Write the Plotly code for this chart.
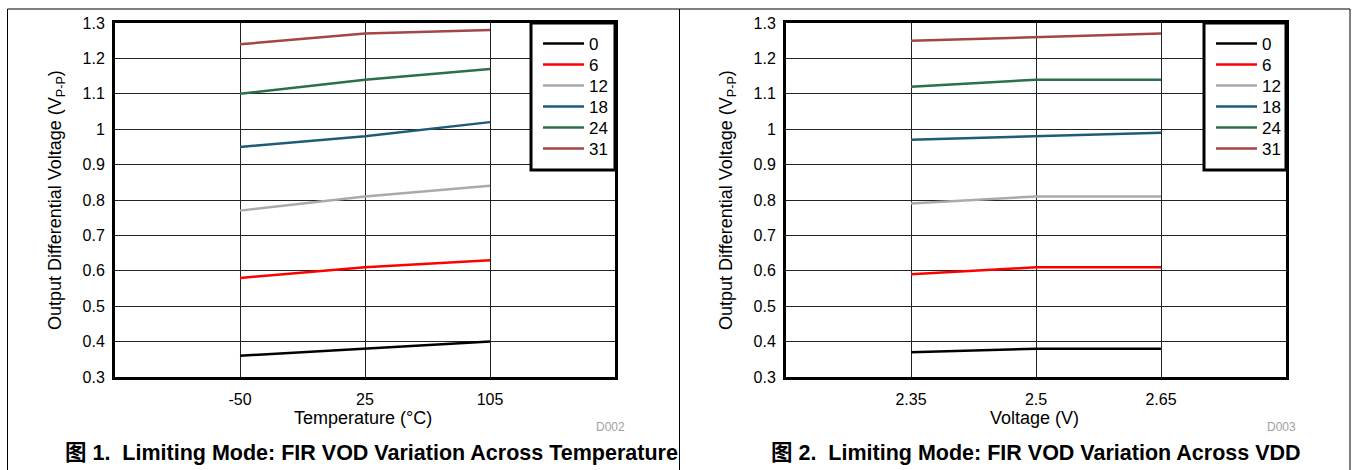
import plotly.graph_objects as go

W, H = 1353, 470

series_names = ["0", "6", "12", "18", "24", "31"]
series_colors = ["#000000", "#ff0000", "#aaaaaa", "#1f5b78", "#2b7049", "#a54545"]

temp_labels = ["-50", "25", "105"]
temp_values = {
    "0": [0.36, 0.38, 0.40],
    "6": [0.58, 0.61, 0.63],
    "12": [0.77, 0.81, 0.84],
    "18": [0.95, 0.98, 1.02],
    "24": [1.10, 1.14, 1.17],
    "31": [1.24, 1.27, 1.28],
}

vdd_labels = ["2.35", "2.5", "2.65"]
vdd_values = {
    "0": [0.37, 0.38, 0.38],
    "6": [0.59, 0.61, 0.61],
    "12": [0.79, 0.81, 0.81],
    "18": [0.97, 0.98, 0.99],
    "24": [1.12, 1.14, 1.14],
    "31": [1.25, 1.26, 1.27],
}

y_ticks = [0.3, 0.4, 0.5, 0.6, 0.7, 0.8, 0.9, 1.0, 1.1, 1.2, 1.3]
y_tick_text = ["0.3", "0.4", "0.5", "0.6", "0.7", "0.8", "0.9", "1", "1.1", "1.2", "1.3"]

FONT = "Arial, Liberation Sans, Noto Sans CJK SC, sans-serif"

def px(x):
    return x / W

def py(y):
    return 1 - y / H

fig = go.Figure()

panels = [
    dict(labels=temp_labels, values=temp_values, xa="x", ya="y",
         left=115, right=615, leg_left=531, xtitle="Temperature (°C)", code="D002",
         caption="图 1.  Limiting Mode: FIR VOD Variation Across Temperature",
         cap_x=371, box=(7.5, 679.5)),
    dict(labels=vdd_labels, values=vdd_values, xa="x2", ya="y2",
         left=786, right=1286, leg_left=1204, xtitle="Voltage (V)", code="D003",
         caption="图 2.  Limiting Mode: FIR VOD Variation Across VDD",
         cap_x=1036, box=(679.5, 1350)),
]

top, bottom = 23, 377
leg_bottom = 170
leg_first_y, leg_step = 44, 21

layout = dict(
    width=W, height=H,
    margin=dict(l=0, r=0, t=0, b=0, autoexpand=False),
    paper_bgcolor="white", plot_bgcolor="white",
    font=dict(family=FONT, color="black", size=16),
    showlegend=True,
    shapes=[], annotations=[],
)

for i, p in enumerate(panels):
    sfx = "" if i == 0 else str(i + 1)
    for j, (name, color) in enumerate(zip(series_names, series_colors)):
        k = i * len(series_names) + j + 1
        leg = "legend" if k == 1 else "legend%d" % k
        fig.add_trace(go.Scatter(
            x=p["labels"], y=p["values"][name], mode="lines", name=name,
            line=dict(color=color, width=2.5),
            xaxis=p["xa"], yaxis=p["ya"], legend=leg,
        ))
        layout[leg] = dict(
            x=px(p["leg_left"] + 7), xanchor="left",
            y=py(leg_first_y + j * leg_step), yanchor="middle",
            bgcolor="rgba(0,0,0,0)", borderwidth=0,
            font=dict(size=17, family=FONT),
            itemwidth=41,
        )
    layout["xaxis" + sfx] = dict(
        type="category", range=[-1, 3],
        domain=[px(p["left"]), px(p["right"])],
        anchor="y" + sfx, automargin=False,
        showgrid=True, gridcolor="#222222", gridwidth=1,
        showline=True, linecolor="black", linewidth=3, mirror=True,
        ticks="", ticklabelstandoff=6,
        tickfont=dict(size=16, family=FONT),
        zeroline=False, fixedrange=True,
    )
    layout["yaxis" + sfx] = dict(
        range=[0.3, 1.3],
        domain=[py(bottom), py(top)],
        anchor="x" + sfx, automargin=False,
        tickvals=y_ticks, ticktext=y_tick_text,
        showgrid=True, gridcolor="#222222", gridwidth=1,
        showline=True, linecolor="black", linewidth=3, mirror=True,
        ticks="", ticklabelstandoff=4,
        tickfont=dict(size=16, family=FONT),
        zeroline=False, fixedrange=True,
    )
    # legend frame
    layout["shapes"].append(dict(
        type="rect", xref="paper", yref="paper",
        x0=px(p["leg_left"]), x1=px(p["right"]), y0=py(leg_bottom), y1=py(top),
        line=dict(color="black", width=3), fillcolor="white", layer="above",
    ))
    # axis titles
    layout["annotations"].append(dict(
        text="Output Differential Voltage (V<sub>P-P</sub>)",
        x=px(p["left"] - 58), y=py((top + bottom) / 2),
        xref="paper", yref="paper", textangle=-90, showarrow=False,
        font=dict(size=18, family=FONT), xanchor="center", yanchor="middle",
    ))
    layout["annotations"].append(dict(
        text=p["xtitle"],
        x=px((p["left"] + p["right"]) / 2 - 2), y=py(418),
        xref="paper", yref="paper", showarrow=False,
        font=dict(size=18, family=FONT), xanchor="center", yanchor="middle",
    ))
    layout["annotations"].append(dict(
        text=p["code"], x=px(p["right"] + 12), y=py(427),
        xref="paper", yref="paper", showarrow=False, xanchor="right", yanchor="middle",
        font=dict(size=12, family=FONT, color="#a0a0a0"),
    ))
    layout["annotations"].append(dict(
        text="<b>" + p["caption"] + "</b>", x=px(p["cap_x"]), y=py(453),
        xref="paper", yref="paper", showarrow=False, xanchor="center", yanchor="middle",
        font=dict(size=21.5, family=FONT, color="black"),
    ))
    x0, x1 = p["box"]
    layout["shapes"].append(dict(
        type="rect", xref="paper", yref="paper",
        x0=px(x0), x1=px(x1), y0=-0.05, y1=py(9),
        line=dict(color="black", width=1), layer="below",
    ))

fig.update_layout(**layout)
fig.write_html(
    "out.html",
    config={"responsive": False, "displayModeBar": False},
    post_script="document.body.style.margin='0';document.body.style.overflow='hidden';",
)
